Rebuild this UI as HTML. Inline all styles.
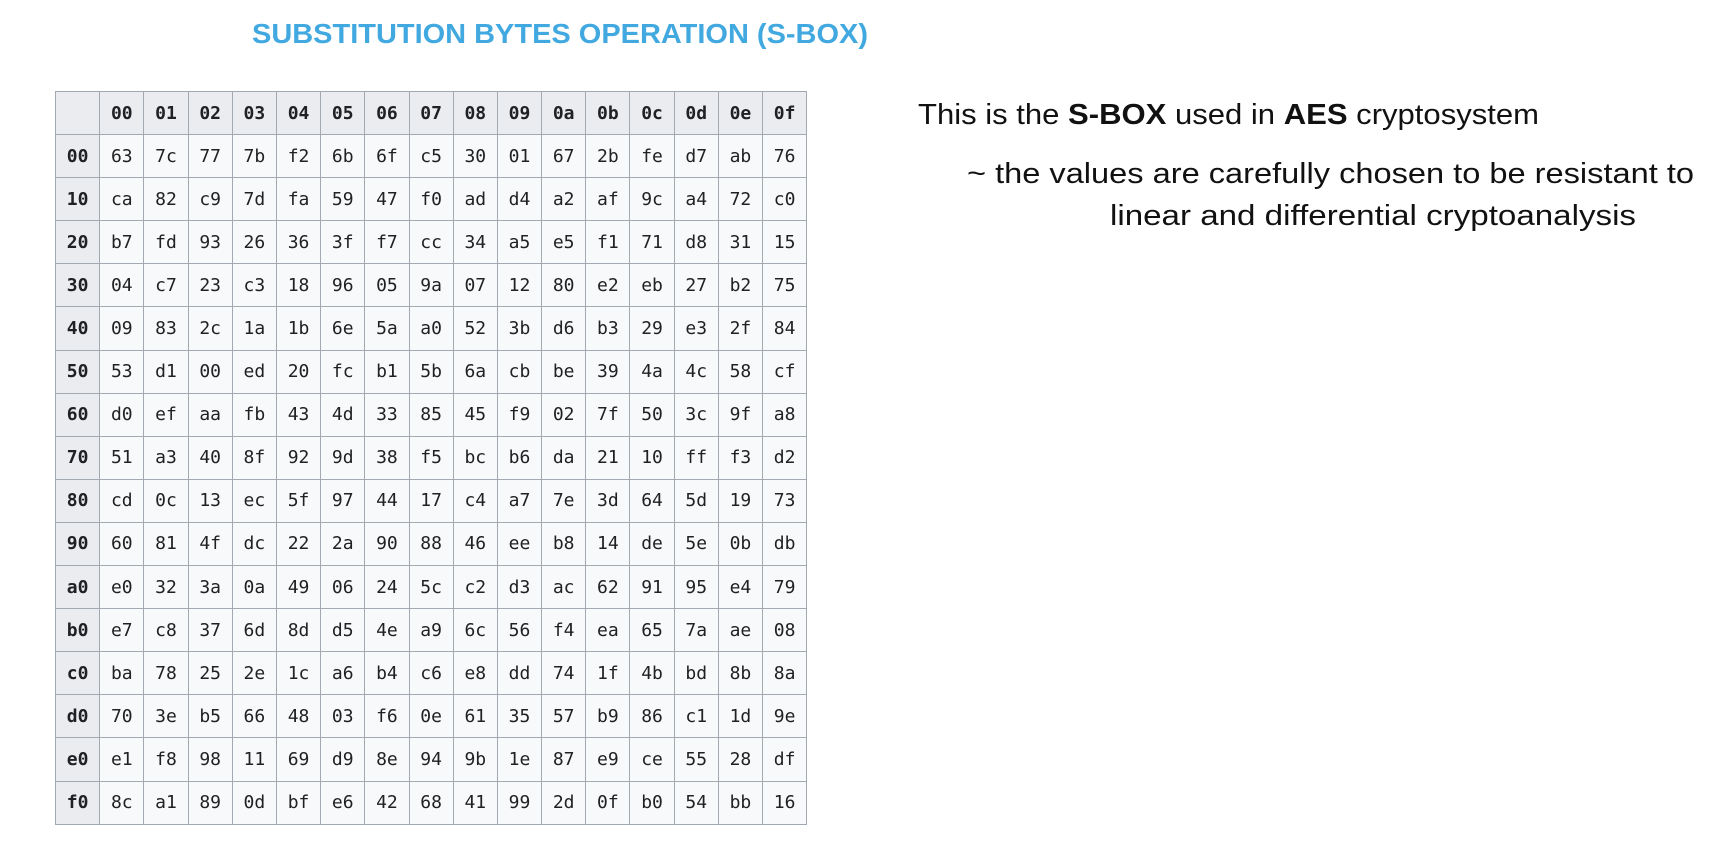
<!DOCTYPE html>
<html><head><meta charset="utf-8"><style>
html,body{margin:0;padding:0;background:#fff;width:1732px;height:852px;overflow:hidden;position:relative}
table{position:absolute;left:55px;top:91px;border-collapse:collapse;font-family:"DejaVu Sans Mono","Liberation Mono",monospace;font-size:18px;color:#202122}
td{width:44.2px;height:43.1px;border:1px solid #a2a9b1;background:#f8f9fa;text-align:center;padding:0;box-sizing:border-box}
td.h{background:#eaecf0;font-weight:bold}
svg{position:absolute;left:0;top:0}
</style></head><body>
<svg width="1732" height="852">
<text x="252" y="43" textLength="616" lengthAdjust="spacingAndGlyphs" font-family="Liberation Sans, sans-serif" font-weight="bold" font-size="28" fill="#41a9e0">SUBSTITUTION BYTES OPERATION (S-BOX)</text>
<text x="918" y="124" textLength="621" lengthAdjust="spacingAndGlyphs" font-family="Liberation Sans, sans-serif" font-size="29" fill="#111">This is the <tspan font-weight="bold">S-BOX</tspan> used in <tspan font-weight="bold">AES</tspan> cryptosystem</text>
<text x="967" y="183" textLength="727" lengthAdjust="spacingAndGlyphs" font-family="Liberation Sans, sans-serif" font-size="29" fill="#111">~ the values are carefully chosen to be resistant to</text>
<text x="1110" y="225" textLength="526" lengthAdjust="spacingAndGlyphs" font-family="Liberation Sans, sans-serif" font-size="29" fill="#111">linear and differential cryptoanalysis</text>
</svg>
<table>
<tr><td class="h"></td><td class="h">00</td><td class="h">01</td><td class="h">02</td><td class="h">03</td><td class="h">04</td><td class="h">05</td><td class="h">06</td><td class="h">07</td><td class="h">08</td><td class="h">09</td><td class="h">0a</td><td class="h">0b</td><td class="h">0c</td><td class="h">0d</td><td class="h">0e</td><td class="h">0f</td></tr>
<tr><td class="h">00</td><td>63</td><td>7c</td><td>77</td><td>7b</td><td>f2</td><td>6b</td><td>6f</td><td>c5</td><td>30</td><td>01</td><td>67</td><td>2b</td><td>fe</td><td>d7</td><td>ab</td><td>76</td></tr>
<tr><td class="h">10</td><td>ca</td><td>82</td><td>c9</td><td>7d</td><td>fa</td><td>59</td><td>47</td><td>f0</td><td>ad</td><td>d4</td><td>a2</td><td>af</td><td>9c</td><td>a4</td><td>72</td><td>c0</td></tr>
<tr><td class="h">20</td><td>b7</td><td>fd</td><td>93</td><td>26</td><td>36</td><td>3f</td><td>f7</td><td>cc</td><td>34</td><td>a5</td><td>e5</td><td>f1</td><td>71</td><td>d8</td><td>31</td><td>15</td></tr>
<tr><td class="h">30</td><td>04</td><td>c7</td><td>23</td><td>c3</td><td>18</td><td>96</td><td>05</td><td>9a</td><td>07</td><td>12</td><td>80</td><td>e2</td><td>eb</td><td>27</td><td>b2</td><td>75</td></tr>
<tr><td class="h">40</td><td>09</td><td>83</td><td>2c</td><td>1a</td><td>1b</td><td>6e</td><td>5a</td><td>a0</td><td>52</td><td>3b</td><td>d6</td><td>b3</td><td>29</td><td>e3</td><td>2f</td><td>84</td></tr>
<tr><td class="h">50</td><td>53</td><td>d1</td><td>00</td><td>ed</td><td>20</td><td>fc</td><td>b1</td><td>5b</td><td>6a</td><td>cb</td><td>be</td><td>39</td><td>4a</td><td>4c</td><td>58</td><td>cf</td></tr>
<tr><td class="h">60</td><td>d0</td><td>ef</td><td>aa</td><td>fb</td><td>43</td><td>4d</td><td>33</td><td>85</td><td>45</td><td>f9</td><td>02</td><td>7f</td><td>50</td><td>3c</td><td>9f</td><td>a8</td></tr>
<tr><td class="h">70</td><td>51</td><td>a3</td><td>40</td><td>8f</td><td>92</td><td>9d</td><td>38</td><td>f5</td><td>bc</td><td>b6</td><td>da</td><td>21</td><td>10</td><td>ff</td><td>f3</td><td>d2</td></tr>
<tr><td class="h">80</td><td>cd</td><td>0c</td><td>13</td><td>ec</td><td>5f</td><td>97</td><td>44</td><td>17</td><td>c4</td><td>a7</td><td>7e</td><td>3d</td><td>64</td><td>5d</td><td>19</td><td>73</td></tr>
<tr><td class="h">90</td><td>60</td><td>81</td><td>4f</td><td>dc</td><td>22</td><td>2a</td><td>90</td><td>88</td><td>46</td><td>ee</td><td>b8</td><td>14</td><td>de</td><td>5e</td><td>0b</td><td>db</td></tr>
<tr><td class="h">a0</td><td>e0</td><td>32</td><td>3a</td><td>0a</td><td>49</td><td>06</td><td>24</td><td>5c</td><td>c2</td><td>d3</td><td>ac</td><td>62</td><td>91</td><td>95</td><td>e4</td><td>79</td></tr>
<tr><td class="h">b0</td><td>e7</td><td>c8</td><td>37</td><td>6d</td><td>8d</td><td>d5</td><td>4e</td><td>a9</td><td>6c</td><td>56</td><td>f4</td><td>ea</td><td>65</td><td>7a</td><td>ae</td><td>08</td></tr>
<tr><td class="h">c0</td><td>ba</td><td>78</td><td>25</td><td>2e</td><td>1c</td><td>a6</td><td>b4</td><td>c6</td><td>e8</td><td>dd</td><td>74</td><td>1f</td><td>4b</td><td>bd</td><td>8b</td><td>8a</td></tr>
<tr><td class="h">d0</td><td>70</td><td>3e</td><td>b5</td><td>66</td><td>48</td><td>03</td><td>f6</td><td>0e</td><td>61</td><td>35</td><td>57</td><td>b9</td><td>86</td><td>c1</td><td>1d</td><td>9e</td></tr>
<tr><td class="h">e0</td><td>e1</td><td>f8</td><td>98</td><td>11</td><td>69</td><td>d9</td><td>8e</td><td>94</td><td>9b</td><td>1e</td><td>87</td><td>e9</td><td>ce</td><td>55</td><td>28</td><td>df</td></tr>
<tr><td class="h">f0</td><td>8c</td><td>a1</td><td>89</td><td>0d</td><td>bf</td><td>e6</td><td>42</td><td>68</td><td>41</td><td>99</td><td>2d</td><td>0f</td><td>b0</td><td>54</td><td>bb</td><td>16</td></tr>
</table>
</body></html>
